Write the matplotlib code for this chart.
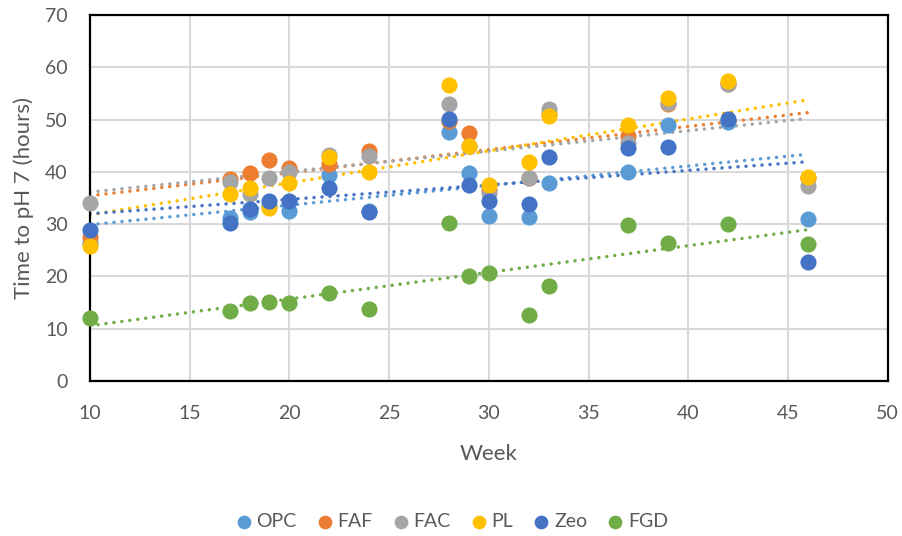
import numpy as np
import matplotlib.pyplot as plt

# semanas de muestreo
weeks = [10, 17, 18, 19, 20, 22, 24, 28, 29, 30, 32, 33, 37, 39, 42, 46]

# tiempo hasta pH 7 (horas) por mezcla
opc = [26.5, 31.2, 32.4, 33.5, 32.5, 39.4, 32.6, 47.7, 39.7, 31.6, 31.3, 37.8, 40.0, 48.9, 49.5, 30.9]
faf = [27.5, 38.6, 39.7, 42.3, 40.7, 41.6, 44.0, 49.7, 47.5, 36.5, 38.8, 51.0, 46.8, 53.0, 56.8, 38.8]
fac = [34.0, 38.0, 35.7, 38.9, 40.0, 43.3, 43.0, 52.9, 45.0, 35.9, 38.8, 52.0, 45.5, 53.1, 56.8, 37.3]
pl = [25.8, 35.7, 37.0, 33.1, 37.9, 42.9, 40.0, 56.6, 45.0, 37.5, 41.9, 50.7, 48.9, 54.1, 57.4, 39.0]
zeo = [28.8, 30.3, 33.0, 34.4, 34.4, 36.9, 32.3, 50.1, 37.5, 34.4, 33.8, 42.8, 44.5, 44.8, 50.1, 22.8]
fgd = [12.0, 13.4, 14.9, 15.1, 15.0, 16.8, 13.8, 30.3, 20.1, 20.7, 12.6, 18.2, 29.8, 26.4, 30.0, 26.3]

series = [
    ('OPC', opc, '#5B9BD5'),
    ('FAF', faf, '#ED7D31'),
    ('FAC', fac, '#A5A5A5'),
    ('PL', pl, '#FFC000'),
    ('Zeo', zeo, '#4472C4'),
    ('FGD', fgd, '#70AD47'),
]

plt.rcParams['font.family'] = ['Lato', 'DejaVu Sans']

fig = plt.figure(figsize=(9.03, 5.36), dpi=100)
ax = fig.add_axes([0.0997, 0.289, 0.8833, 0.683])

x = np.array(weeks)
# lineas de tendencia (regresion lineal), punteadas
for nombre, y, color in series:
    a, b = np.polyfit(x, np.array(y), 1)
    xx = np.array([x.min(), x.max()])
    ax.plot(xx, a * xx + b, linestyle=(0, (0.01, 2.3)), linewidth=2.5,
            color=color, dash_capstyle='round', zorder=2)

for nombre, y, color in series:
    ax.scatter(weeks, y, s=135, color=color, label=nombre, zorder=3,
               linewidths=0, clip_on=False)

ax.set_xlim(10, 50)
ax.set_ylim(0, 70)
ax.set_xticks(range(10, 51, 5))
ax.set_yticks(range(0, 71, 10))
ax.grid(True, color='#D9D9D9', linewidth=1.5)
ax.set_axisbelow(True)
for s in ax.spines.values():
    s.set_linewidth(1.6)
    s.set_color('black')
ax.tick_params(length=0, labelsize=14, colors='#595959')
ax.tick_params(axis='x', pad=17)
ax.tick_params(axis='y', pad=16)
ax.set_xlabel('Week', fontsize=16, color='#595959', labelpad=16)
ax.set_ylabel('Time to pH 7 (hours)', fontsize=16, color='#595959', labelpad=8)

leg = fig.legend(loc='center', bbox_to_anchor=(0.5, 0.027), ncol=6, frameon=False,
                 fontsize=14, handlelength=0.9, handletextpad=0.2, columnspacing=1.0,
                 markerscale=0.85, labelcolor='#595959')

fig.savefig('out.png', dpi=100)
